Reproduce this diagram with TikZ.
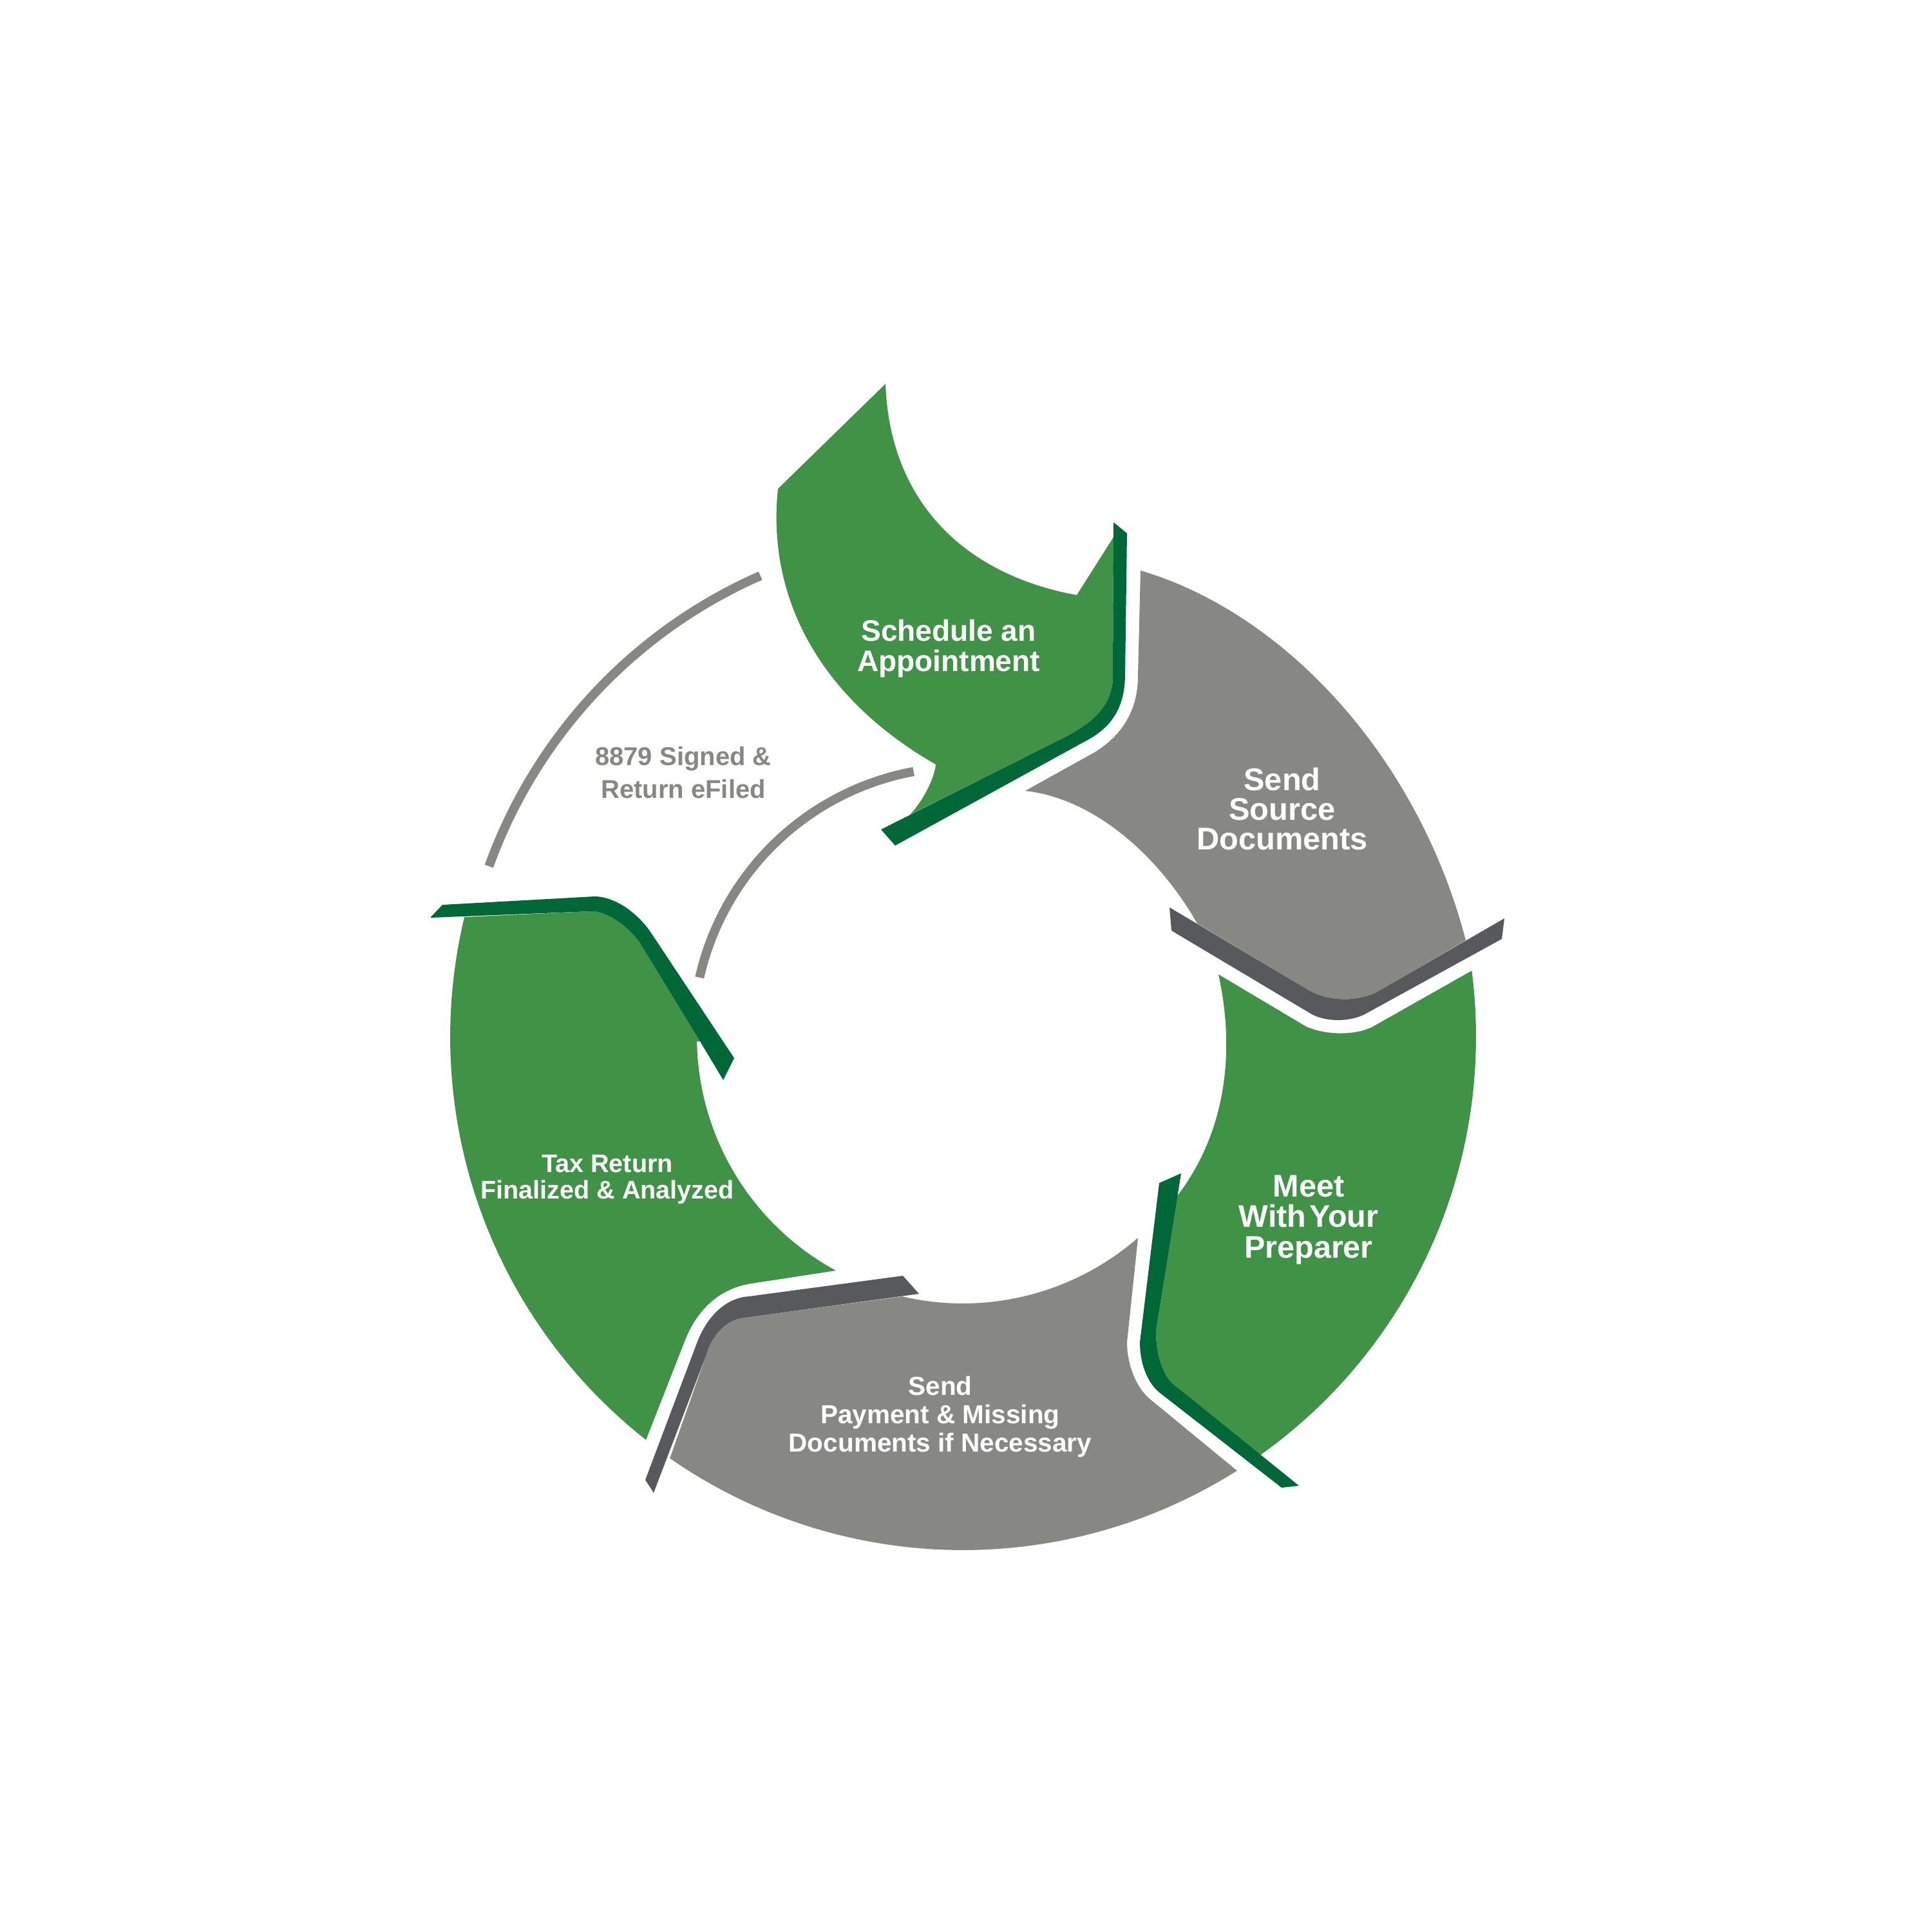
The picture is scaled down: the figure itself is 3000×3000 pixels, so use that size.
\documentclass[tikz,border=0pt]{standalone}
\usepackage{fontspec}
\setmainfont{Liberation Sans}
\definecolor{lgreen}{RGB}{64,146,70}
\definecolor{dgreen}{RGB}{0,104,56}
\definecolor{lgray}{RGB}{135,136,132}
\definecolor{dgray}{RGB}{88,89,92}
\tikzset{
  piecegreen/.style={fill=lgreen},
  stripgreen/.style={fill=dgreen},
  piecegray/.style={fill=lgray},
  stripgray/.style={fill=dgray},
  thinarc/.style={draw=lgray, line width=1.4mm},
  lbl/.style={text=white, align=center, inner sep=0pt},
}
\begin{document}
\begin{tikzpicture}[x=0.01cm,y=-0.01cm]
\useasboundingbox (0,0) rectangle (3000,3000);
\fill[white] (0,0) rectangle (3000,3000);

% Schedule an Appointment
\fill[piecegreen] (1375,596) -- (1208,759)
  .. controls (1190,930) and (1275,1085) .. (1453,1187)
  .. controls (1451,1210) and (1432,1245) .. (1413,1265)
  -- (1647,1148) .. controls (1690,1127) and (1728,1100) .. (1728,1050)
  -- (1729,834) -- (1672,924)
  .. controls (1510,895) and (1382,790) .. (1375,596)
  -- cycle;
\fill[stripgreen] (1368,1288) -- (1647,1148) .. controls (1690,1127) and (1728,1100) .. (1728,1050)
  -- (1729,811) -- (1750,828) -- (1747,1050)
  .. controls (1746,1100) and (1725,1130) .. (1687,1150) -- (1390,1313) -- cycle;

% Send Source Documents
\fill[piecegray] (1771,886)
  .. controls (1990,950) and (2200,1170) .. (2276,1460)
  -- (2137,1541) .. controls (2105,1556) and (2060,1556) .. (2026,1534)
  -- (1859,1434)
  .. controls (1800,1330) and (1700,1240) .. (1592,1228)
  -- (1700,1168) .. controls (1745,1140) and (1767,1100) .. (1767,1050) -- cycle;
\fill[stripgray] (1816,1409) -- (2026,1534) .. controls (2060,1556) and (2105,1556) .. (2137,1541)
  -- (2336,1426) -- (2332,1458) -- (2119,1575) .. controls (2095,1587) and (2060,1587) .. (2037,1575)
  -- (1819,1445) -- cycle;

% Meet With Your Preparer
\fill[piecegreen] (1892,1513) -- (2028,1594) .. controls (2060,1608) and (2105,1608) .. (2132,1594)
  -- (2284,1508)
  -- plot[domain=-7.4:54.6, samples=50] ({1495+797*cos(\x)},{1610+797*sin(\x)})
  -- (1820,2148) .. controls (1803,2130) and (1795,2100) .. (1795,2066)
  -- (1828,1857)
  .. controls (1895,1770) and (1922,1650) .. (1892,1513)
  -- cycle;
\fill[stripgreen] (1800,1837) -- (1834,1822) -- (1795,2066) .. controls (1795,2100) and (1803,2130) .. (1820,2148)
  -- (2017,2307) -- (1990,2310) -- (1800,2162) .. controls (1780,2145) and (1770,2115) .. (1770,2084) -- cycle;

% Send Payment & Missing Documents
\fill[piecegray] (1767,1923) -- (1750,2084) .. controls (1750,2120) and (1765,2158) .. (1790,2176)
  -- (1920,2283)
  -- plot[domain=57.6:124.8, samples=50] ({1495+797*cos(\x)},{1610+797*sin(\x)})
  -- (1097,2103) .. controls (1105,2075) and (1125,2052) .. (1150,2047)
  -- (1402,2013)
  -- plot[domain=103:49.1, samples=40] ({1495+414*cos(\x)},{1610+414*sin(\x)})
  -- cycle;
\fill[stripgray] (1002,2298) -- (1083,2083) .. controls (1100,2040) and (1130,2015) .. (1163,2013)
  -- (1402,1981) -- (1427,2009) -- (1150,2047) .. controls (1125,2052) and (1105,2075) .. (1097,2103)
  -- (1015,2318) -- cycle;

% Tax Return Finalized & Analyzed
\fill[piecegreen] (721,1424) -- (917,1415) .. controls (942,1414) and (975,1438) .. (993,1463)
  -- (1087,1617)
  -- plot[domain=179:118.5, samples=40] ({1495+413*cos(\x)},{1610+413*sin(\x)})
  -- (1167,1993) .. controls (1120,2000) and (1085,2030) .. (1065,2078)
  -- (1003,2236)
  -- plot[domain=128.2:193.5, samples=50] ({1495+796*cos(\x)},{1610+796*sin(\x)})
  -- cycle;
\fill[stripgreen] (668,1425) -- (687,1405) -- (923,1392) .. controls (955,1392) and (990,1418) .. (1010,1447)
  -- (1140,1643) -- (1123,1677) -- (1087,1617) -- (993,1463)
  .. controls (975,1438) and (942,1414) .. (917,1415) -- cycle;

% 8879 thin arcs
\draw[thinarc] plot[domain=-160.2:-113.7, samples=60] ({1495+782*cos(\x)},{1610+782*sin(\x)});
\draw[thinarc] plot[domain=-167.3:-100.5, samples=60] ({1495+419*cos(\x)},{1610+419*sin(\x)});

% Labels
\node[lbl, font=\fontsize{13.1}{13.5}\selectfont\bfseries] (t1) at (1473,1007) {Schedule an\\Appointment};
\node[lbl, font=\fontsize{13.86}{13.1}\selectfont\bfseries] (t2) at (1991,1256) {Send\\Source\\Documents};
\node[lbl, font=\fontsize{13.8}{13.46}\selectfont\bfseries] (t3) at (2032,1894) {Meet\\With\kern0.1em Your\\Preparer};
\node[lbl, font=\fontsize{11.52}{12.6}\selectfont\bfseries] (t4) at (1460,2200) {Send\\Payment \& Missing\\Documents if Necessary};
\node[lbl, font=\fontsize{11.24}{11.67}\selectfont\bfseries] (t5) at (943,1831) {Tax Return\\Finalized \& Analyzed};
\node[lbl, text=lgray, font=\fontsize{11.38}{14.5}\selectfont\bfseries] (t6) at (1061,1200) {8879 Signed \&\\Return eFiled};
\end{tikzpicture}
\end{document}
